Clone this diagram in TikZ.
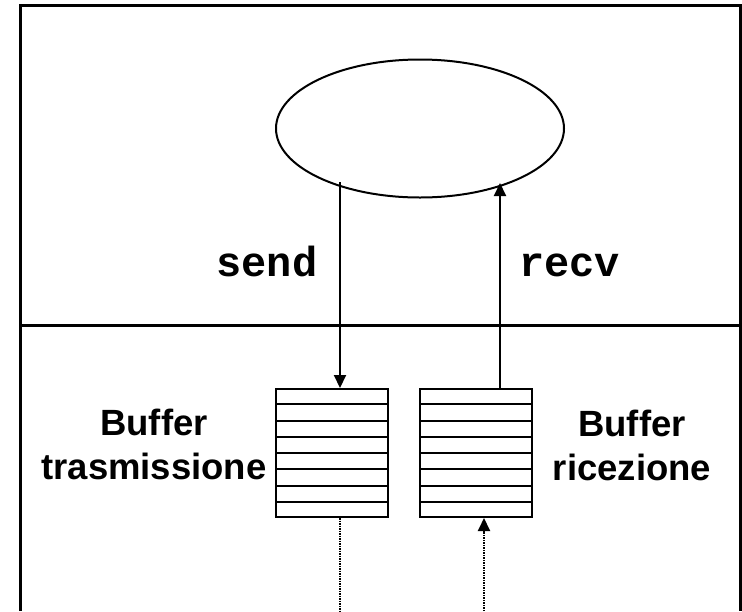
\documentclass[tikz,border=0pt]{standalone}
\usepackage{fontspec}
\setmainfont{Liberation Sans}
\newfontfamily\codefont{Liberation Mono}
\usetikzlibrary{arrows.meta,shapes.geometric,calc}

\begin{document}
\begin{tikzpicture}[x=1pt,y=-1pt,
  frame/.style={line width=3pt},
  thin/.style={line width=2pt},
  arr/.style={line width=2pt,-{Triangle[length=13pt,width=12pt]}},
  dots/.style={line width=2pt,dash pattern=on 1.5pt off 1pt},
  bufbox/.style={draw,line width=2pt,rectangle,minimum width=112pt,minimum height=128pt,inner sep=0pt},
  proc/.style={draw,line width=2pt,ellipse,minimum width=288pt,minimum height=138pt,inner sep=0pt},
  code/.style={font=\codefont\bfseries\fontsize{42}{48}\selectfont,inner sep=0pt,anchor=base},
  lbl/.style={font=\bfseries\fontsize{36.5}{44.5}\selectfont,align=center,inner sep=0pt}]
\useasboundingbox (0,0) rectangle (742,611);

% outer frame (open at the bottom) and layer divider
\draw[frame] (20.5,611) -- (20.5,5) -- (740.5,5) -- (740.5,611);
\draw[frame] (20.5,325) -- (740.5,325);

% process
\node[proc] (p) at (420,128.5) {};

% socket buffers
\node[bufbox] (tx) at (332,453) {};
\node[bufbox] (rx) at (476.3,453) {};
\foreach \b in {tx,rx}{
  \foreach \k in {1,...,7}{
    \draw[thin] ($(\b.north west)!\k/8!(\b.south west)$) -- ($(\b.north east)!\k/8!(\b.south east)$);
  }
}

% labels
\node[code] (send) at (267,276) {send};
\node[code] (recv) at (569.5,276) {recv};
\node[lbl] (ltx) at (154,444.5) {Buffer\\trasmissione};
\node[lbl] (lrx) at (632,445.5) {Buffer\\ricezione};

% connectors
\coordinate (s1) at (340,182);
\coordinate (r1) at (500,183);
\coordinate (d1) at (340,611);
\coordinate (d2) at (484,611);
\draw[arr] (s1) -- (s1 |- tx.north);
\draw[arr] (r1 |- rx.north) -- (r1);
\draw[dots] (d1 |- tx.south) -- (d1);
\draw[dots,-{Triangle[length=13pt,width=12pt]}] (d2) -- (d2 |- rx.south);
\end{tikzpicture}
\end{document}
